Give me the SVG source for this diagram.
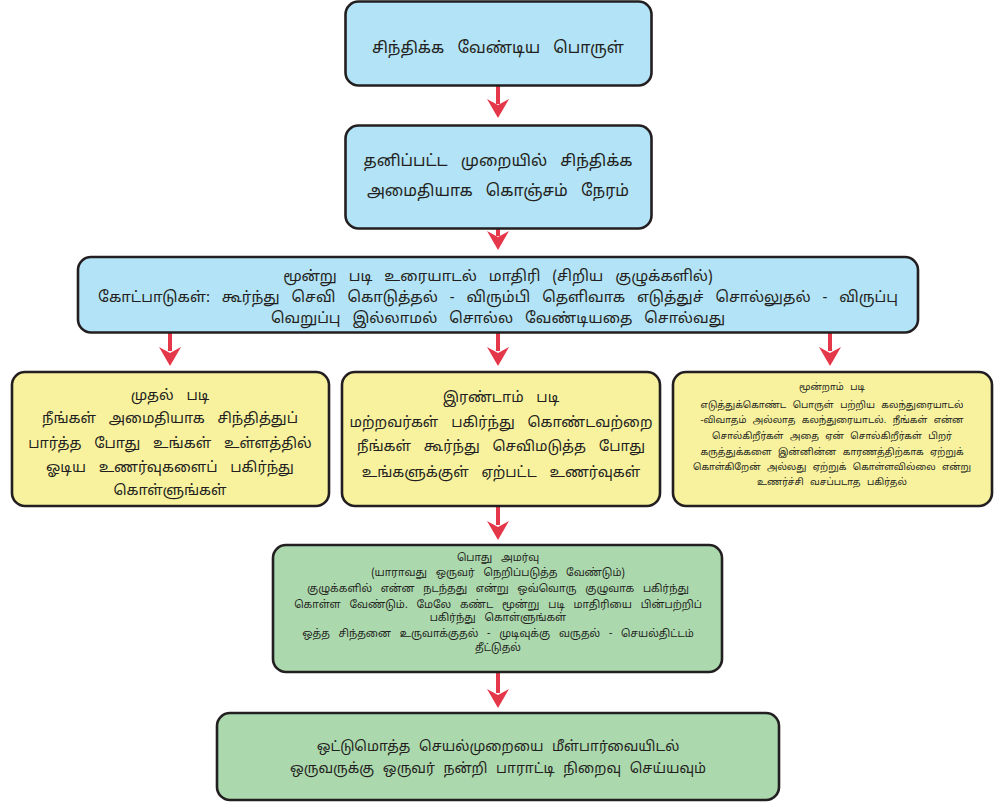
<svg xmlns="http://www.w3.org/2000/svg" width="1001" height="805" viewBox="0 0 1001 805">
<defs>
<style>
.box{stroke:#231f20;stroke-width:2.6}
.blue{fill:#b3e3f6}
.yellow{fill:#f8f29f}
.green{fill:#acd8ae}
text{font-family:"Noto Sans Tamil","Lohit Tamil","Latha","Noto Sans","DejaVu Sans",sans-serif;fill:#231f20;text-anchor:middle}
.t1{font-size:16px;word-spacing:9px}
.t3{font-size:15px;word-spacing:8px}
.ty{font-size:14.5px;word-spacing:9px}
.ts{font-size:9.3px;word-spacing:4px}
.tg{font-size:10.5px;word-spacing:6px}
.tb{font-size:14px;word-spacing:5px}
.arr{stroke:#e5374a;stroke-width:4;fill:none}
.head{fill:#e5374a}
</style>
<path id="ah" d="M-11,0 L0,6 L11,0 L0,19 Z"/>
</defs>
<rect width="1001" height="805" fill="#ffffff"/>

<g id="connectors">
<line class="arr" x1="498" y1="86" x2="498" y2="104"/>
<use href="#ah" class="head" x="498" y="99"/>
<line class="arr" x1="498" y1="229" x2="498" y2="236"/>
<use href="#ah" class="head" x="498" y="231"/>
<line class="arr" x1="170" y1="333" x2="170" y2="351"/>
<use href="#ah" class="head" x="170" y="347"/>
<line class="arr" x1="498" y1="333" x2="498" y2="351"/>
<use href="#ah" class="head" x="498" y="347"/>
<line class="arr" x1="830" y1="333" x2="830" y2="351"/>
<use href="#ah" class="head" x="830" y="347"/>
<line class="arr" x1="498" y1="507" x2="498" y2="525"/>
<use href="#ah" class="head" x="498" y="521"/>
<line class="arr" x1="498" y1="673" x2="498" y2="693"/>
<use href="#ah" class="head" x="498" y="689"/>
</g>

<g id="node1">
<rect class="box blue" x="345.5" y="1.5" width="306" height="84" rx="13"/>
<text class="t1" x="498" y="53">சிந்திக்க வேண்டிய பொருள்</text>
</g>

<g id="node2">
<rect class="box blue" x="345.5" y="125.5" width="306" height="103" rx="13"/>
<text class="t1" x="498" y="166">தனிப்பட்ட முறையில் சிந்திக்க</text>
<text class="t1" x="498" y="196">அமைதியாக கொஞ்சம் நேரம்</text>
</g>

<g id="node3">
<rect class="box blue" x="78" y="257" width="840" height="75.5" rx="13"/>
<text class="t3" x="498" y="281">மூன்று படி உரையாடல் மாதிரி (சிறிய குழுக்களில்)</text>
<text class="t3" x="498" y="302">கோட்பாடுகள்: கூர்ந்து செவி கொடுத்தல் - விரும்பி தெளிவாக எடுத்துச் சொல்லுதல் - விருப்பு</text>
<text class="t3" x="498" y="323">வெறுப்பு இல்லாமல் சொல்ல வேண்டியதை சொல்வது</text>
</g>

<g id="node4">
<rect class="box yellow" x="12" y="372" width="317" height="134" rx="13"/>
<text class="ty" x="170" y="400">முதல் படி</text>
<text class="ty" x="170" y="423">நீங்கள் அமைதியாக சிந்தித்துப்</text>
<text class="ty" x="170" y="448">பார்த்த போது உங்கள் உள்ளத்தில்</text>
<text class="ty" x="170" y="472">ஓடிய உணர்வுகளைப் பகிர்ந்து</text>
<text class="ty" x="170" y="495">கொள்ளுங்கள்</text>
</g>

<g id="node5">
<rect class="box yellow" x="342" y="372" width="318" height="134" rx="13"/>
<text class="ty" x="501" y="402">இரண்டாம் படி</text>
<text class="ty" x="501" y="427">மற்றவர்கள் பகிர்ந்து கொண்டவற்றை</text>
<text class="ty" x="501" y="451">நீங்கள் கூர்ந்து செவிமடுத்த போது</text>
<text class="ty" x="501" y="477">உங்களுக்குள் ஏற்பட்ட உணர்வுகள்</text>
</g>

<g id="node6">
<rect class="box yellow" x="673" y="372" width="319" height="134" rx="13"/>
<text class="ts" x="832" y="390">மூன்றாம் படி</text>
<text class="ts" x="832" y="408">எடுத்துக்கொண்ட பொருள் பற்றிய கலந்துரையாடல்</text>
<text class="ts" x="832" y="423">-விவாதம் அல்லாத கலந்துரையாடல். நீங்கள் என்ன</text>
<text class="ts" x="832" y="439">சொல்கிறீர்கள் அதை ஏன் சொல்கிறீர்கள் பிறர்</text>
<text class="ts" x="832" y="455">கருத்துக்களை இன்னின்ன காரணத்திற்காக ஏற்றுக்</text>
<text class="ts" x="832" y="470">கொள்கிறேன் அல்லது ஏற்றுக் கொள்ளவில்லை என்று</text>
<text class="ts" x="832" y="485">உணர்ச்சி வசப்படாத பகிர்தல்</text>
</g>

<g id="node7">
<rect class="box green" x="273" y="545" width="449" height="127" rx="13"/>
<text class="tg" x="498" y="561">பொது அமர்வு</text>
<text class="tg" x="498" y="576">(யாராவது ஒருவர் நெறிப்படுத்த வேண்டும்)</text>
<text class="tg" x="498" y="592">குழுக்களில் என்ன நடந்தது என்று ஒவ்வொரு குழுவாக பகிர்ந்து</text>
<text class="tg" x="498" y="608">கொள்ள வேண்டும். மேலே கண்ட மூன்று படி மாதிரியை பின்பற்றிப்</text>
<text class="tg" x="498" y="621">பகிர்ந்து கொள்ளுங்கள்</text>
<text class="tg" x="498" y="637">ஒத்த சிந்தனை உருவாக்குதல் - முடிவுக்கு வருதல் - செயல்திட்டம்</text>
<text class="tg" x="498" y="651">தீட்டுதல்</text>
</g>

<g id="node8">
<rect class="box green" x="217" y="713" width="562" height="87" rx="13"/>
<text class="tb" x="498" y="751">ஒட்டுமொத்த செயல்முறையை மீள்பார்வையிடல்</text>
<text class="tb" x="498" y="773">ஒருவருக்கு ஒருவர் நன்றி பாராட்டி நிறைவு செய்யவும்</text>
</g>
</svg>
